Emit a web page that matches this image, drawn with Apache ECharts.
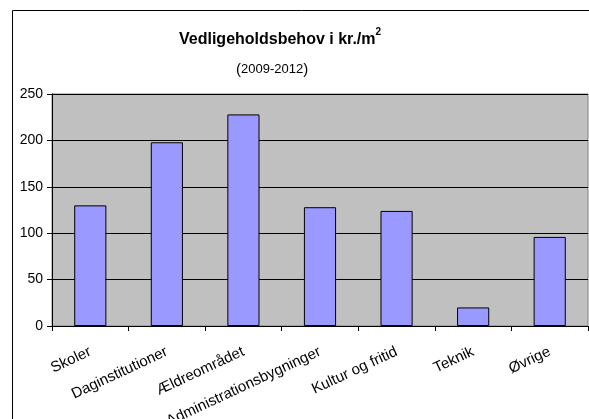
<!DOCTYPE html>
<html>
<head>
<meta charset="utf-8">
<script src="https://cdn.jsdelivr.net/npm/echarts@6/dist/echarts.min.js"></script>
<style>
  html, body { margin: 0; padding: 0; background: #fff; }
  #chart { width: 589px; height: 419px; }
</style>
</head>
<body>
<div id="chart"></div>
<script>
// kategorier og værdier (kr./m2)
var categories = ['Skoler', 'Daginstitutioner', 'Ældreområdet', 'Administrationsbygninger', 'Kultur og fritid', 'Teknik', 'Øvrige'];
var values = [130, 198, 228, 128, 124, 20, 96];
var yTicks = [0, 50, 100, 150, 200, 250];

var chart = echarts.init(document.getElementById('chart'));

var option = {
  backgroundColor: '#fff',
  animation: false,
  // ramme om diagrammet
  graphic: [{
    type: 'rect',
    z: -10,
    shape: { x: 12.5, y: 10.5, width: 600, height: 430 },
    style: { fill: '#fff', stroke: '#000', lineWidth: 1 }
  }],
  title: [{
    text: '{a|Vedligeholdsbehov i kr./m}{s|2}',
    left: 179,
    top: 27,
    padding: 0,
    textStyle: {
      rich: {
        a: { fontFamily: 'Liberation Sans, Arial', fontSize: 16, fontWeight: 'bold', color: '#000', verticalAlign: 'bottom', lineHeight: 21 },
        s: { fontFamily: 'Liberation Sans, Arial', fontSize: 10, fontWeight: 'bold', color: '#000', verticalAlign: 'top', lineHeight: 10 }
      }
    }
  }, {
    text: '{p|(}{t|2009-2012}{p|)}',
    left: 236,
    top: 62,
    padding: 0,
    textStyle: {
      fontWeight: 'normal',
      rich: {
        p: { fontFamily: 'Liberation Sans, Arial', fontSize: 15, fontWeight: 'normal', color: '#000' },
        t: { fontFamily: 'Liberation Sans, Arial', fontSize: 13, fontWeight: 'normal', color: '#000' }
      }
    }
  }],
  grid: {
    left: 52,
    right: 1,
    top: 94,
    bottom: 93,
    outerBoundsMode: 'none',
    containLabel: false,
    show: true,
    backgroundColor: '#C0C0C0',
    borderColor: '#808080',
    borderWidth: 1
  },
  xAxis: {
    type: 'category',
    data: categories,
    boundaryGap: true,
    axisLine: { lineStyle: { color: '#000', width: 1 } },
    axisTick: { show: true, inside: false, length: 5, lineStyle: { color: '#000' } },
    axisLabel: {
      rotate: 25,
      margin: 25,
      interval: 0,
      color: '#000',
      fontFamily: 'Liberation Sans, Arial',
      fontSize: 15
    }
  },
  yAxis: {
    type: 'value',
    min: yTicks[0],
    max: yTicks[yTicks.length - 1],
    interval: 50,
    axisLine: { show: true, lineStyle: { color: '#000', width: 1 } },
    axisTick: { show: true, inside: false, length: 5, lineStyle: { color: '#000' } },
    axisLabel: {
      color: '#000',
      fontFamily: 'Liberation Sans, Arial',
      fontSize: 14,
      margin: 9
    },
    splitLine: { show: true, lineStyle: { color: '#000', width: 1 } }
  },
  series: [{
    type: 'bar',
    data: values,
    barWidth: '42%',
    itemStyle: { color: '#9999FF', borderColor: '#000', borderWidth: 1 }
  }]
};

chart.setOption(option);
</script>
</body>
</html>
